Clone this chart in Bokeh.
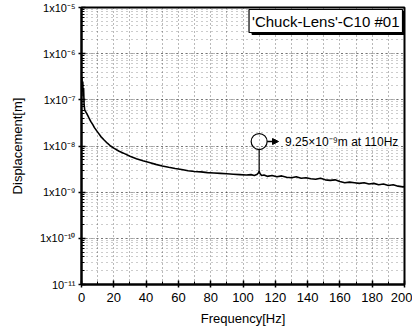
from bokeh.plotting import figure
from bokeh.models import (LogTicker, FixedTicker, CustomJSTickFormatter, Label, Arrow,
                          NormalHead)
from bokeh.embed import file_html
from bokeh.resources import INLINE

# ---- data ----
freq = [0.2, 0.5, 0.8, 1.0, 1.3, 1.6, 2, 3, 4, 5, 6, 7, 8, 10, 12, 14, 16, 18, 20, 23,
        26, 30, 34, 38, 42, 46, 50, 54, 58, 62, 66, 70, 74, 78, 82, 86, 90, 94, 98, 102,
        105, 107, 108.5, 109.5, 110, 110.5, 111.5, 113, 115, 118, 121, 124, 127, 130,
        133, 136, 139, 142, 145, 148, 151, 154, 157, 160, 163, 166, 169, 172, 175, 178,
        181, 184, 187, 190, 193, 196, 199, 200]
disp_n = [300, 150, 250, 120, 180, 80, 60, 52, 45, 38, 33, 29, 25, 20, 16, 13.5, 11.5,
          10, 9, 7.8, 7.0, 6.0, 5.3, 4.8, 4.4, 4.0, 3.7, 3.45, 3.25, 3.1, 2.9, 2.8, 2.75,
          2.65, 2.6, 2.55, 2.5, 2.45, 2.4, 2.35, 2.4, 2.3, 2.4, 2.6, 2.85, 2.55, 2.3, 2.35,
          2.2, 2.3, 2.15, 2.25, 2.1, 2.05, 2.15, 2.0, 2.05, 1.95, 1.9, 2.0, 1.85, 1.8,
          1.85, 1.7, 1.6, 1.65, 1.6, 1.55, 1.6, 1.5, 1.55, 1.45, 1.5, 1.4, 1.45, 1.35,
          1.3, 1.32]
disp = [v * 1e-9 for v in disp_n]

x_ticks = [0, 20, 40, 60, 80, 100, 120, 140, 160, 180, 200]
y_exponents = [-11, -10, -9, -8, -7, -6, -5]
y_labels = ["10⁻¹¹", "1x10⁻¹⁰", "1x10⁻⁹", "1x10⁻⁸", "1x10⁻⁷", "1x10⁻⁶", "1x10⁻⁵"]

peak_f = 110
peak_v = 2.85e-9
circle_v = 1.25e-8
note = "9.25×10⁻⁹m at 110Hz"
legend_text = "'Chuck-Lens'-C10 #01"

FONT = "Liberation Sans"

p = figure(width=412, height=328, y_axis_type="log",
           x_range=(0, 200), y_range=(1e-11, 1e-5),
           output_backend="svg", toolbar_location=None,
           min_border_left=81, min_border_right=8, min_border_top=7,
           min_border_bottom=44)

p.background_fill_color = "white"
p.border_fill_color = "white"
p.outline_line_color = "black"
p.outline_line_width = 2

# grids: dotted
p.xgrid.ticker = FixedTicker(ticks=list(range(0, 201, 10)))
p.xgrid.grid_line_color = "black"
p.xgrid.grid_line_dash = "1 3"
p.xgrid.grid_line_alpha = 0.55
p.ygrid.grid_line_color = "black"
p.ygrid.grid_line_dash = "1 3"
p.ygrid.grid_line_alpha = 0.55
p.ygrid.minor_grid_line_color = "black"
p.ygrid.minor_grid_line_dash = "1 4"
p.ygrid.minor_grid_line_alpha = 0.4

# axes
p.xaxis.ticker = FixedTicker(ticks=x_ticks, minor_ticks=list(range(0, 201, 10)))
p.yaxis.ticker = LogTicker(num_minor_ticks=10, desired_num_ticks=7)
labels_js = "{" + ",".join(f'"{e}":"{l}"' for e, l in zip(y_exponents, y_labels)) + "}"
p.yaxis.formatter = CustomJSTickFormatter(
    code=f"const m = {labels_js}; const e = Math.round(Math.log10(tick)); return m[String(e)] ?? '';")

for ax in (p.xaxis[0], p.yaxis[0]):
    ax.axis_line_width = 2
    ax.axis_line_color = "black"
    ax.major_tick_in = 4
    ax.major_tick_out = 3
    ax.minor_tick_in = 3
    ax.minor_tick_out = 0
    ax.major_tick_line_width = 1.5
    ax.major_label_text_font = FONT
    ax.major_label_text_color = "black"
    ax.axis_label_text_font = FONT
    ax.axis_label_text_font_style = "normal"
    ax.axis_label_text_color = "black"
    ax.axis_label_text_font_size = "13px"

p.xaxis.major_label_text_font_size = "13px"
p.yaxis.major_label_text_font_size = "11px"
p.xaxis.axis_label = "Frequency[Hz]"
p.yaxis.axis_label = "Displacement[m]"
p.xaxis.axis_label_standoff = 6
p.yaxis.axis_label_standoff = 12
p.xaxis.major_label_standoff = 5
p.yaxis.major_label_standoff = 3

# data line
p.line(freq, disp, line_color="black", line_width=1.6)

# annotation: circle, vertical connector, arrow, text
p.segment(x0=[peak_f], y0=[peak_v], x1=[peak_f], y1=[circle_v * 0.7],
          line_color="black", line_width=1.2)
p.scatter([peak_f], [circle_v], marker="circle", size=16, fill_color=None,
          line_color="black", line_width=1.2)
p.add_layout(Arrow(end=NormalHead(size=6, fill_color="black", line_color="black"),
                   x_start=peak_f + 5, y_start=circle_v, x_end=peak_f + 12, y_end=circle_v,
                   line_color="black", line_width=1.5))
p.add_layout(Label(x=peak_f + 16, y=circle_v, text=note, text_font=FONT,
                   text_font_size="12px", text_baseline="middle", text_color="black",
                   background_fill_color="white", background_fill_alpha=0.85))

# legend box with shadow (top-right corner)
p.add_layout(Label(x=200, y=1e-5, text=legend_text,
                   text_font=FONT, text_font_size="15px", text_align="right",
                   text_baseline="top", text_color="black",
                   background_fill_color="black", border_line_color="black",
                   padding=3, x_offset=1, y_offset=-4))
p.add_layout(Label(x=200, y=1e-5, text=legend_text,
                   text_font=FONT, text_font_size="15px", text_align="right",
                   text_baseline="top", text_color="black",
                   background_fill_color="white", border_line_color="black",
                   border_line_width=1.2, padding=3, x_offset=-2, y_offset=-2))

open("out.html", "w").write(file_html(p, INLINE))
